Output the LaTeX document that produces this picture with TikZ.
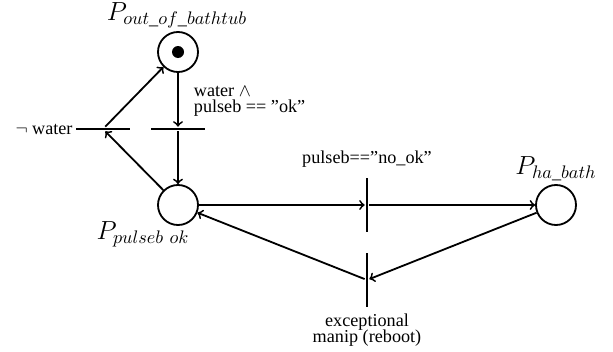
\documentclass[tikz,border=0pt]{standalone}
\usepackage{amsmath}
\usepackage{fontspec}
\setmainfont{Liberation Serif}
\usepackage{tikz}
\usetikzlibrary{positioning}

\begin{document}
\begin{tikzpicture}[x=0.55pt, y=-0.55pt, line width=1pt, place/.style={circle, draw, line width=1pt, minimum size=22pt, inner sep=0pt}, hbar/.style={rectangle, fill, minimum width=29.5pt, minimum height=1.6pt, inner sep=0pt}, vbar/.style={rectangle, fill, minimum width=1.6pt, minimum height=29.5pt, inner sep=0pt}, plabel/.style={font=\Large}]
  \useasboundingbox (0,0) rectangle (613,351);
  % places
  \node[place] (out) at (178,52) {};
  \fill (out.center) circle (3.3pt);
  \node[place] (ok) at (178,205) {};
  \node[place] (ha) at (556,205) {};
  \node[plabel] (outlabel) at (177,15) {$P_{out\_of\_bathtub}$};
  \node[plabel] (oklabel) at (143,234) {$P_{pulseb\ ok}$};
  \node[plabel] (halabel) at (556,169) {$P_{ha\_bath}$};
  % transitions
  \node[hbar] (tok) at (178,129) {};
  \node[hbar] (tnot) at (103,129) {};
  \node[vbar] (tno) at (367,205) {};
  \node[vbar] (texc) at (367,280) {};
  \node[anchor=east, inner sep=1pt] (notlabel) at (tnot.west) {$\neg$ water};
  \node[anchor=west, align=left, inner sep=0pt] (oktext) at (193,101) {water $\wedge$\\[-3pt]pulseb == ''ok''};
  \node (nolabel) at (367,159) {pulseb==''no\_ok''};
  \node[align=center] (exclabel) at (367,330) {exceptional\\[-3pt]manip (reboot)};
  % arcs
  \draw[->] (out) -- (tok);
  \draw[->] (tok) -- (ok);
  \draw[->] (ok) -- (tnot);
  \draw[->] (tnot) -- (out);
  \draw[->] (ok) -- (tno);
  \draw[->] (tno) -- (ha);
  \draw[->] (ha) -- (texc);
  \draw[->] (texc) -- (ok);
\end{tikzpicture}
\end{document}
